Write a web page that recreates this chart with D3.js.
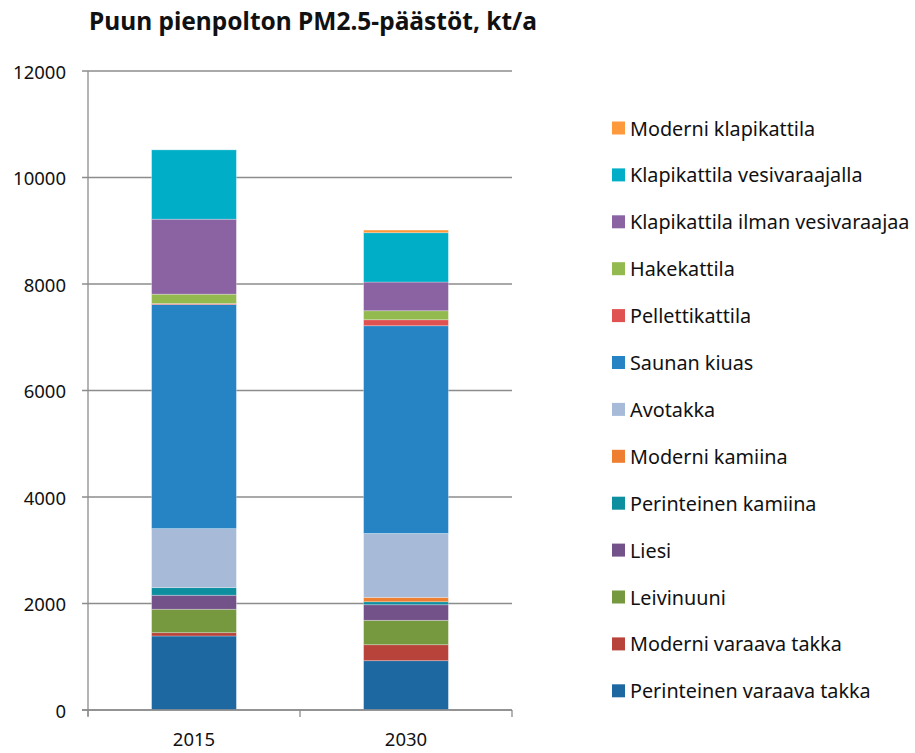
<!DOCTYPE html>
<html>
<head>
<meta charset="utf-8">
<script src="https://cdn.jsdelivr.net/npm/d3@7"></script>
<style>
    body { margin: 0; background: #fff; }
    text { font-family: "Noto Sans", "Open Sans", sans-serif; fill: #111; }
    .title { font-weight: bold; font-size: 24.5px; }
    .tick_label { font-size: 18.5px; }
    .legend_label { font-size: 19.8px; }
</style>
</head>
<body>
<svg id="chart" width="915" height="753"></svg>
<script>
// Categories and series, bottom of the stack first
let years = ["2015", "2030"];
let series_names = [
    "Perinteinen varaava takka",
    "Moderni varaava takka",
    "Leivinuuni",
    "Liesi",
    "Perinteinen kamiina",
    "Moderni kamiina",
    "Avotakka",
    "Saunan kiuas",
    "Pellettikattila",
    "Hakekattila",
    "Klapikattila ilman vesivaraajaa",
    "Klapikattila vesivaraajalla",
    "Moderni klapikattila"
];
let values_2015 = [1390, 62, 440, 263, 143, 0, 1108, 4207, 20, 176, 1408, 1302, 0];
let values_2030 = [926, 300, 458, 293, 56, 81, 1202, 3900, 113, 169, 539, 926, 50];
let series_colors = ["#1d68a0", "#b8433b", "#76983e", "#735289", "#0e8fa0", "#ee7f30",
    "#a7bbd9", "#2683c4", "#e05252", "#93ba4f", "#8b63a3", "#00aec7", "#ff9a3c"];
let y_ticks = [0, 2000, 4000, 6000, 8000, 10000, 12000];

let svg = d3.select("#chart");
let plot_left = 88, plot_right = 512, plot_top = 71, plot_bottom = 710;

// Build rows for the stack
let rows = years.map((yr, i) => {
    let vals = i == 0 ? values_2015 : values_2030;
    let row = { year: yr };
    series_names.forEach((s, j) => row[s] = vals[j]);
    return row;
});
let stacked = d3.stack().keys(series_names)(rows);

let x = d3.scaleBand().domain(years).range([plot_left, plot_right]).paddingInner(0.6).paddingOuter(0.3);
let y = d3.scaleLinear().domain([0, 12000]).range([plot_bottom, plot_top]);

// Gridlines
svg.selectAll(".grid").data(y_ticks).join("line")
    .attr("class", "grid")
    .attr("x1", plot_left - 6)
    .attr("x2", plot_right)
    .attr("y1", d => y(d))
    .attr("y2", d => y(d))
    .style("stroke", "#8c8c8c")
    .style("stroke-width", 1.3);

// Tick labels on y
svg.selectAll(".y_label").data(y_ticks).join("text")
    .attr("class", "y_label tick_label")
    .attr("x", 66)
    .attr("y", d => y(d))
    .attr("text-anchor", "end")
    .attr("dominant-baseline", "central")
    .text(d => d);

// Bars
let layers = svg.selectAll(".layer").data(stacked).join("g")
    .attr("class", "layer")
    .style("fill", (d, i) => series_colors[i]);

layers.selectAll("rect").data(d => d).join("rect")
    .attr("x", d => x(d.data.year))
    .attr("width", x.bandwidth())
    .attr("y", d => y(d[1]))
    .attr("height", d => y(d[0]) - y(d[1]))
    .style("stroke", "#ffffff")
    .style("stroke-opacity", 0.35)
    .style("stroke-width", 0.8);

// Axes lines
svg.append("line")
    .attr("x1", plot_left).attr("x2", plot_left)
    .attr("y1", plot_top).attr("y2", plot_bottom + 6)
    .style("stroke", "#8c8c8c").style("stroke-width", 1.3);
svg.append("line")
    .attr("x1", plot_left - 6).attr("x2", plot_right)
    .attr("y1", plot_bottom).attr("y2", plot_bottom)
    .style("stroke", "#8c8c8c").style("stroke-width", 1.5);

// Category ticks between categories
let step = (plot_right - plot_left) / years.length;
svg.selectAll(".cat_tick").data(d3.range(years.length + 1)).join("line")
    .attr("class", "cat_tick")
    .attr("x1", d => plot_left + d * step)
    .attr("x2", d => plot_left + d * step)
    .attr("y1", plot_bottom)
    .attr("y2", plot_bottom + 7)
    .style("stroke", "#8c8c8c").style("stroke-width", 1.3);

// Category labels
svg.selectAll(".cat_label").data(years).join("text")
    .attr("class", "cat_label tick_label")
    .attr("x", d => x(d) + x.bandwidth() / 2)
    .attr("y", 746)
    .attr("text-anchor", "middle")
    .text(d => d);

// Title
svg.append("text")
    .attr("class", "title")
    .attr("x", 313)
    .attr("y", 30)
    .attr("text-anchor", "middle")
    .text("Puun pienpolton PM2.5-päästöt, kt/a");

// Legend, top item is the top of the stack
let legend_items = series_names.slice().reverse();
let legend_colors = series_colors.slice().reverse();
let legend = svg.selectAll(".legend_g").data(legend_items).join("g")
    .attr("class", "legend_g")
    .attr("transform", (d, i) => "translate(612," + (128 + i * 46.9) + ")");

legend.append("rect")
    .attr("x", 0)
    .attr("y", -6.5)
    .attr("width", 13)
    .attr("height", 13)
    .style("fill", (d, i) => legend_colors[i]);

legend.append("text")
    .attr("class", "legend_label")
    .attr("x", 18)
    .attr("y", 0)
    .attr("dominant-baseline", "central")
    .text(d => d);
</script>
</body>
</html>
